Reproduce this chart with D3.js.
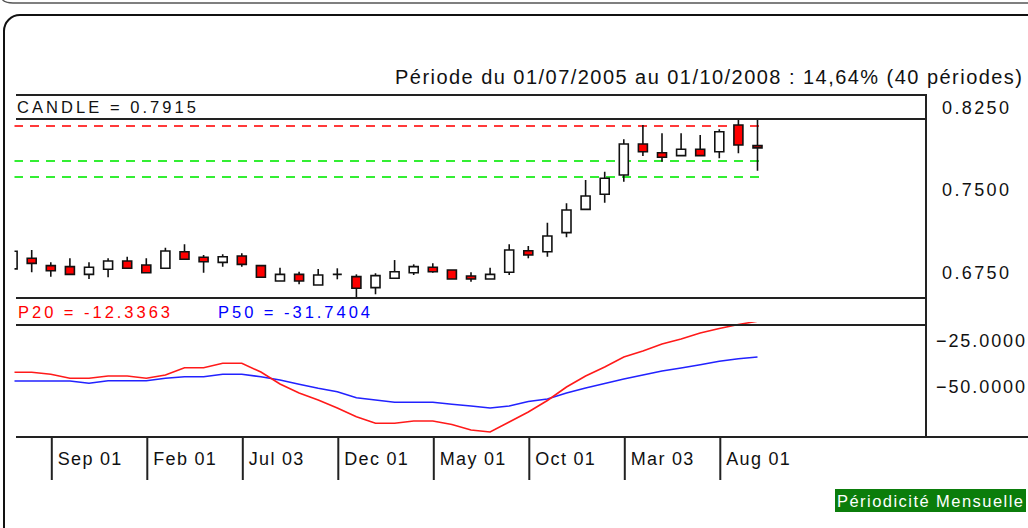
<!DOCTYPE html>
<html><head><meta charset="utf-8">
<script src="https://cdn.jsdelivr.net/npm/d3@7"></script>
<style>html,body{margin:0;padding:0;background:#fff;overflow:hidden}
text{font-family:"Liberation Sans",Arial,sans-serif}</style>
</head><body>
<svg id="c" width="1028" height="528"></svg>
<script>
// ---- data ----
const periods = ["07/2005","08/2005","09/2005","10/2005","11/2005","12/2005","01/2006","02/2006","03/2006","04/2006",
  "05/2006","06/2006","07/2006","08/2006","09/2006","10/2006","11/2006","12/2006","01/2007","02/2007",
  "03/2007","04/2007","05/2007","06/2007","07/2007","08/2007","09/2007","10/2007","11/2007","12/2007",
  "01/2008","02/2008","03/2008","04/2008","05/2008","06/2008","07/2008","08/2008","09/2008","10/2008"];
const openV  = [0.6815,0.6911,0.6844,0.6835,0.6765,0.6811,0.6886,0.6850,0.6820,0.6971,
  0.6920,0.6874,0.6932,0.6844,0.6705,0.6765,0.6668,0.6765,0.6744,0.6644,
  0.6729,0.6780,0.6829,0.6805,0.6750,0.6723,0.6784,0.6980,0.6971,0.7144,
  0.7356,0.7493,0.7668,0.7950,0.7871,0.7844,0.7902,0.7880,0.8123,0.7935];
const highV  = [0.6995,0.6986,0.6874,0.6911,0.6874,0.6911,0.6925,0.6911,0.7007,0.7038,
  0.6941,0.6947,0.6957,0.6844,0.6825,0.6789,0.6814,0.6820,0.6765,0.6775,
  0.6895,0.6856,0.6865,0.6805,0.6784,0.6825,0.7038,0.7023,0.7235,0.7411,
  0.7623,0.7698,0.7993,0.8123,0.8047,0.8047,0.8032,0.8084,0.8200,0.8200];
const lowV   = [0.6750,0.6784,0.6744,0.6765,0.6723,0.6738,0.6820,0.6780,0.6820,0.6902,
  0.6780,0.6835,0.6835,0.6738,0.6705,0.6675,0.6668,0.6720,0.6530,0.6584,
  0.6729,0.6759,0.6780,0.6723,0.6698,0.6723,0.6759,0.6911,0.6925,0.7102,
  0.7356,0.7416,0.7607,0.7841,0.7789,0.7844,0.7844,0.7820,0.7865,0.7707];
const closeV = [0.6975,0.6865,0.6798,0.6765,0.6829,0.6886,0.6820,0.6780,0.6977,0.6902,
  0.6880,0.6925,0.6856,0.6738,0.6765,0.6705,0.6759,0.6765,0.6638,0.6753,
  0.6789,0.6835,0.6789,0.6723,0.6723,0.6765,0.6986,0.6941,0.7114,0.7350,
  0.7477,0.7638,0.7950,0.7880,0.7829,0.7902,0.7844,0.8062,0.7941,0.7915];
const p20 = [-40.05,-40.05,-41.14,-43.32,-43.32,-42.07,-42.07,-43.32,-41.52,-37.55,
  -37.55,-35.16,-35.16,-39.89,-46.41,-51.30,-55.11,-59.46,-64.18,-67.77,
  -67.77,-66.52,-66.52,-68.42,-71.41,-72.50,-67.07,-61.63,-55.38,-48.04,
  -42.07,-37.17,-31.74,-28.48,-24.67,-21.96,-18.70,-16.25,-14.08,-12.3363];
const p50 = [-44.78,-44.78,-44.78,-44.78,-46.03,-44.62,-44.62,-44.62,-43.32,-42.45,
  -42.45,-41.14,-41.14,-42.45,-44.24,-46.58,-48.75,-50.60,-53.86,-55.11,
  -56.36,-56.36,-56.36,-57.45,-58.37,-59.46,-58.37,-55.92,-54.57,-51.30,
  -48.59,-46.14,-43.70,-41.52,-39.35,-37.72,-35.92,-34.08,-32.66,-31.7404];
const resistanceLevels = [0.8114];
const supportLevels = [0.7795, 0.7650];
const priceTicks = [0.8250, 0.7500, 0.6750];
const oscTicks = [-25, -50];
const tickPeriods = ["09/2005","02/2006","07/2006","12/2006","05/2007","10/2007","03/2008","08/2008"];
const tickLabels = ["Sep 01","Feb 01","Jul 03","Dec 01","May 01","Oct 01","Mar 03","Aug 01"];
const titleText = "Période du 01/07/2005 au 01/10/2008 : 14,64% (40 périodes)";
const candleLabel = "CANDLE = 0.7915";
const p20Label = "P20 = -12.3363";
const p50Label = "P50 = -31.7404";
const periodicity = "Périodicité Mensuelle";

// ---- layout ----
const svg = d3.select("#c");
const L = 16, R = 926;
const topLine = 95, hdrLine = 119, priceBottom = 298, oscHdr = 325, axisY = 437;

const x = d3.scalePoint().domain(periods).range([12.6, 757.5]);
const yP = d3.scaleLinear().domain([0.825, 0.675]).range([111, 276]);
const yO = d3.scaleLinear().domain([-25, -50]).range([344.6, 390.6]);

const defs = svg.append("defs");
defs.append("clipPath").attr("id","clipP").append("rect")
  .attr("x",14.5).attr("y",hdrLine).attr("width",R-14.5).attr("height",priceBottom-hdrLine);
defs.append("clipPath").attr("id","clipO").append("rect")
  .attr("x",14.5).attr("y",322).attr("width",R-14.5).attr("height",axisY-322);

// frames
svg.append("path").attr("d","M0,-8 C0,0 4,3 13,3 L1028,3").attr("fill","none").attr("stroke","#555").attr("stroke-width",1.5);
svg.append("rect").attr("x",4).attr("y",15).attr("width",1100).attr("height",600).attr("rx",16)
  .attr("fill","#fff").attr("stroke","#111").attr("stroke-width",2);

function txt(xp, yp, s, size, len, fill, anchor){
  return svg.append("text").attr("x",xp).attr("y",yp).attr("dy","0.35em")
    .attr("font-size",size).attr("fill",fill||"#111").attr("text-anchor",anchor||"start")
    .attr("textLength",len).attr("lengthAdjust","spacing").text(s);
}
txt(1022, 77, titleText, 20, 627, "#111", "end");

// price panel content
const gp = svg.append("g").attr("clip-path","url(#clipP)");
const xEnd = x(periods[periods.length-1]) + 3;
gp.selectAll("line.res").data(resistanceLevels).join("line")
  .attr("x1",14).attr("x2",xEnd).attr("y1",d=>yP(d)).attr("y2",d=>yP(d))
  .attr("stroke","#ff3a3a").attr("stroke-width",2).attr("stroke-dasharray","9,7");
gp.selectAll("line.sup").data(supportLevels).join("line")
  .attr("x1",14).attr("x2",xEnd).attr("y1",d=>yP(d)).attr("y2",d=>yP(d))
  .attr("stroke","#33ee33").attr("stroke-width",2).attr("stroke-dasharray","9,7");

const candles = periods.map((p,i)=>({p, o:openV[i], h:highV[i], l:lowV[i], c:closeV[i]}));
gp.selectAll("line.wick").data(candles).join("line")
  .attr("x1",d=>x(d.p)).attr("x2",d=>x(d.p)).attr("y1",d=>yP(d.h)).attr("y2",d=>yP(d.l))
  .attr("stroke","#111").attr("stroke-width",1.6);
const bw = 9;
gp.selectAll("path.body").data(candles).join("path")
  .attr("d",d=>{const x0=x(d.p)-bw/2, x1=x(d.p)+bw/2, y0=yP(Math.max(d.o,d.c)), y1=yP(Math.min(d.o,d.c));
    return `M${x0},${y0}H${x1}V${y1}H${x0}Z`;})
  .attr("fill",d=>d.c>=d.o?"#fff":"#ff0000").attr("stroke","#111").attr("stroke-width",1.6);

// oscillator
const go = svg.append("g").attr("clip-path","url(#clipO)");
const line = d3.line().x((d,i)=>x(periods[i])).y(d=>yO(d));
go.append("path").datum(p50).attr("d",line).attr("fill","none").attr("stroke","#2222ff").attr("stroke-width",1.6);
go.append("path").datum(p20).attr("d",line).attr("fill","none").attr("stroke","#ff1a1a").attr("stroke-width",1.6);

// panel lines
const pl = svg.append("g").attr("stroke","#222").attr("stroke-width",2);
[topLine,hdrLine,priceBottom,oscHdr].forEach(yy=>pl.append("line").attr("x1",L).attr("x2",R).attr("y1",yy).attr("y2",yy));
pl.append("line").attr("x1",L).attr("x2",1028).attr("y1",axisY).attr("y2",axisY);
pl.append("line").attr("x1",R).attr("x2",R).attr("y1",topLine-1).attr("y2",axisY);

txt(17, 107, candleLabel, 16.5, 179);
txt(18, 312, p20Label, 16.5, 152, "#ff0000");
txt(218, 312, p50Label, 16.5, 152, "#0000ff");

// axes
const ap = svg.append("g").attr("transform",`translate(942,0)`)
  .call(d3.axisRight(yP).tickValues(priceTicks).tickFormat(d3.format(".4f")).tickSize(0).tickPadding(0));
ap.select(".domain").remove();
ap.selectAll("text").attr("x",0).attr("y",-4).attr("dy","0.35em").attr("font-size",18)
  .attr("font-family","Liberation Sans, Arial").attr("fill","#111").attr("textLength",67).attr("lengthAdjust","spacing");

const ao = svg.append("g").attr("transform",`translate(936,0)`)
  .call(d3.axisRight(yO).tickValues(oscTicks).tickFormat(d3.format(".4f")).tickSize(0).tickPadding(0));
ao.select(".domain").remove();
ao.selectAll("text").attr("x",0).attr("y",-4).attr("dy","0.35em").attr("font-size",18)
  .attr("font-family","Liberation Sans, Arial").attr("fill","#111").attr("textLength",89).attr("lengthAdjust","spacing");

const ax = svg.append("g").attr("transform",`translate(0.5,${axisY})`)
  .call(d3.axisBottom(x).tickValues(tickPeriods).tickFormat((d,i)=>tickLabels[i]).tickSize(43));
ax.select(".domain").remove();
ax.selectAll(".tick line").attr("stroke","#222").attr("stroke-width",2);
ax.selectAll("text").attr("x",6).attr("y",22).attr("dy","0.35em").attr("text-anchor","start")
  .attr("font-size",18).attr("font-family","Liberation Sans, Arial").attr("fill","#111").attr("letter-spacing","1.3px");

// periodicity badge
svg.append("rect").attr("x",835).attr("y",489).attr("width",191).attr("height",23).attr("fill","#0b7d0b");
txt(837, 501, periodicity, 16.5, 186, "#fff");
</script>
</body></html>
